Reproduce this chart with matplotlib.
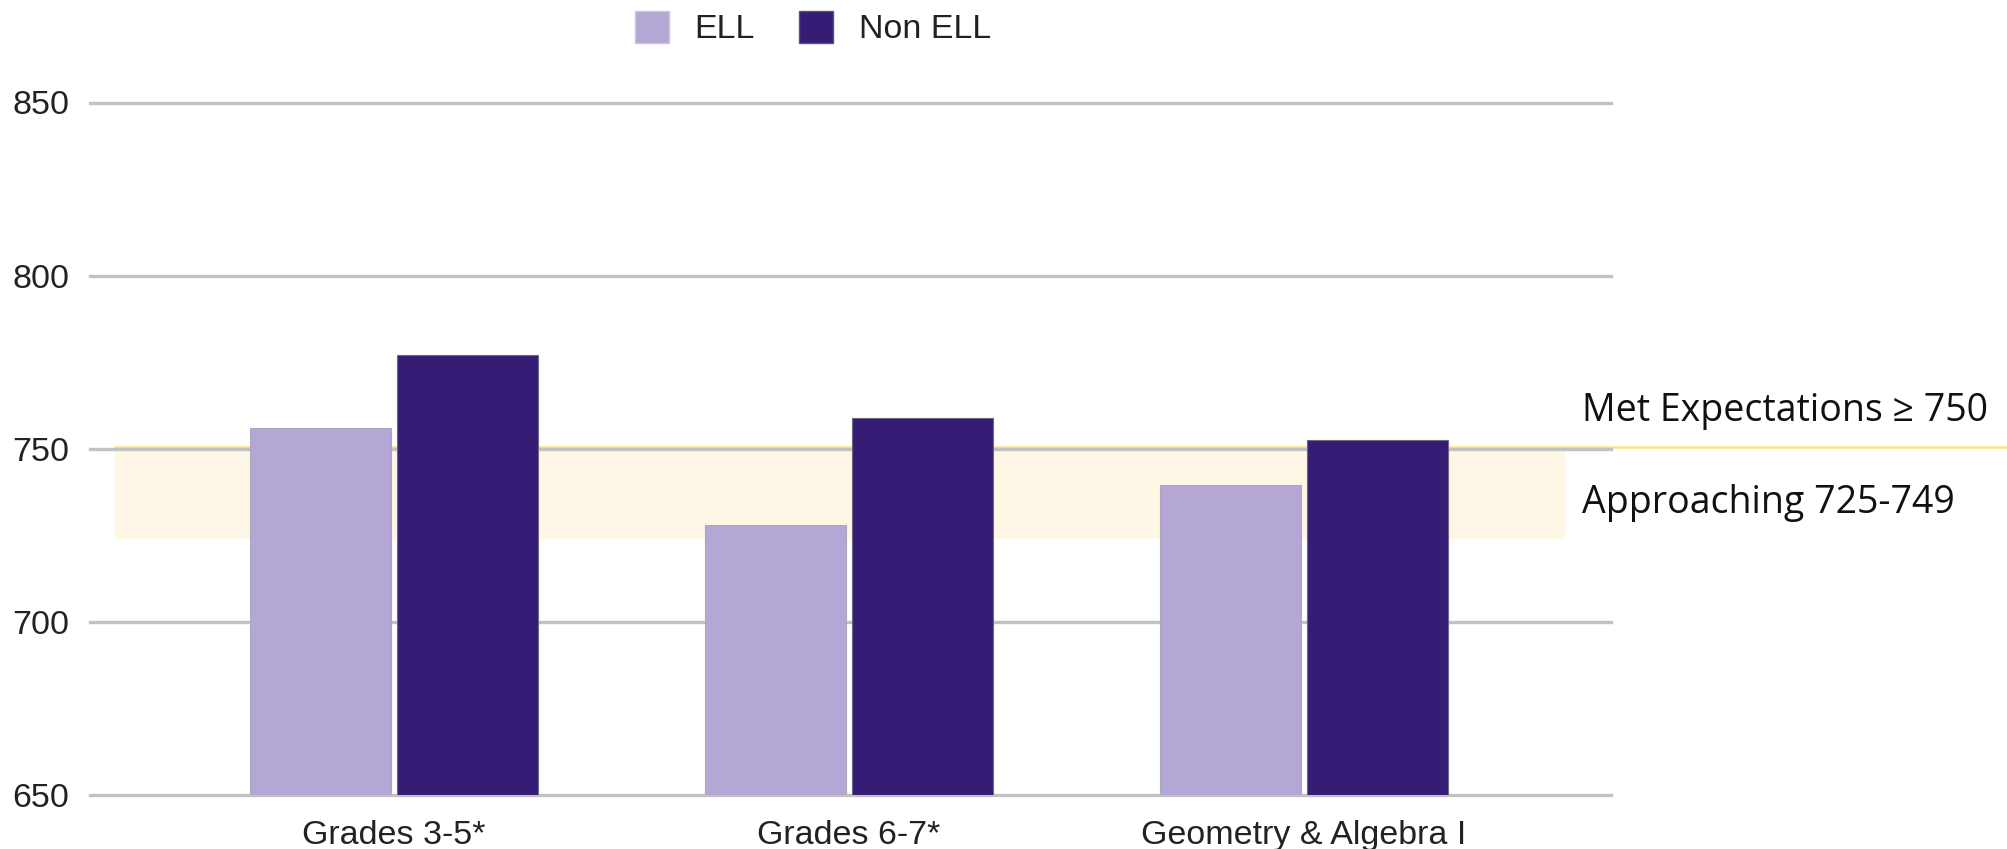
import matplotlib
matplotlib.use("Agg")
import matplotlib.pyplot as plt
import matplotlib.patches as mpatches
import numpy as np

# scores
categories = ["Grades 3-5*", "Grades 6-7*", "Geometry & Algebra I"]
ell_scores = [756, 728, 739.5]
non_ell_scores = [777, 759, 752.5]
y_ticks = [650, 700, 750, 800, 850]
band_low = 724
band_high = 750.6
met_label = "Met Expectations \u2265 750"
approach_label = "Approaching 725-749"

ell_color = "#b4a7d6"
non_ell_color = "#351c75"

plt.rcParams['font.family'] = ['Liberation Sans', 'DejaVu Sans']

fig = plt.figure(figsize=(20.07, 8.49), dpi=100)
ax = fig.add_axes([90 / 2007, 1 - 795 / 849, 1521 / 2007, (795 - 102.5) / 849])

x = np.arange(len(categories))
width = 0.31
off = 0.1615

# shaded "approaching" band and the "met" line
ax.axhspan(band_low, band_high, xmin=0.0164, xmax=0.97, color="#fff7e6", zorder=0, lw=0)
ax.axhline(band_high, xmin=0.0164, xmax=1.27, color="#ffe08f", lw=1.8, zorder=1, clip_on=False)

# gridlines
for t in y_ticks:
    ax.axhline(t, color="#c2c2c2", lw=2.4, zorder=1.5, clip_on=False)

ax.bar(x - off, [v - 650 for v in ell_scores], width, bottom=650, color=ell_color,
       edgecolor="#a9a9b8", linewidth=0.8, zorder=3)
ax.bar(x + off, [v - 650 for v in non_ell_scores], width, bottom=650, color=non_ell_color,
       edgecolor="#6a6a80", linewidth=0.8, zorder=3)

ax.set_xlim(-0.668, 2.675)
ax.set_ylim(650, 850)
ax.set_yticks(y_ticks)
ax.set_yticklabels([str(t) for t in y_ticks])
ax.set_xticks(x)
ax.set_xticklabels(categories)
ax.tick_params(axis='both', length=0, labelsize=24.5, colors="#222222")
ax.tick_params(axis='y', pad=15)
ax.tick_params(axis='x', pad=18)
for s in ax.spines.values():
    s.set_visible(False)

# annotations on the right
ax.text(2.611, 758.1, met_label, fontsize=27, family=['Open Sans', 'DejaVu Sans'],
        color="#111111", va='baseline', ha='left', clip_on=False)
ax.text(2.611, 731.5, approach_label, fontsize=27, family=['Open Sans', 'DejaVu Sans'],
        color="#111111", va='baseline', ha='left', clip_on=False)

handles = [mpatches.Patch(facecolor=ell_color, edgecolor="#c8c8d8", label="ELL"),
           mpatches.Patch(facecolor=non_ell_color, edgecolor="#555577", label="Non ELL")]
ax.legend(handles=handles, loc='upper center', bbox_to_anchor=(813 / 2007, 1 + 6 / 849),
          bbox_transform=fig.transFigure, ncol=2, frameon=False, fontsize=24.5,
          handlelength=1.0, handleheight=1.05, handletextpad=0.75, columnspacing=1.3,
          borderpad=0, labelcolor="#222222")

fig.savefig("out.png", dpi=100, facecolor="white")
